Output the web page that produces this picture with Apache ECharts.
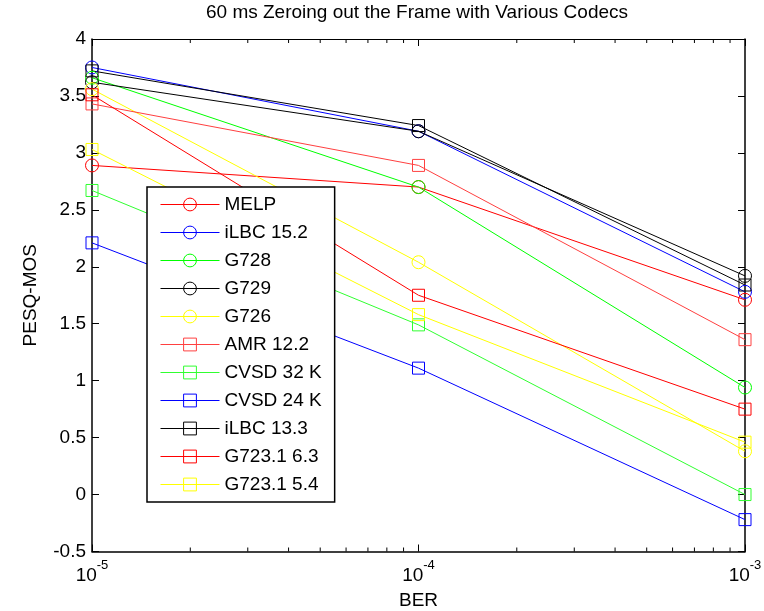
<!DOCTYPE html>
<html>
<head>
<meta charset="utf-8">
<script src="https://cdn.jsdelivr.net/npm/echarts@6/dist/echarts.min.js"></script>
<style>html,body{margin:0;padding:0;background:#fff}#c{width:764px;height:611px}</style>
</head>
<body>
<div id="c"></div>
<script>
// ---- data ----
var berValues = [1e-5, 1e-4, 1e-3];
var xTickExponents = [-5, -4, -3];
var minorTickValues = [2e-5,3e-5,4e-5,5e-5,6e-5,7e-5,8e-5,9e-5,2e-4,3e-4,4e-4,5e-4,6e-4,7e-4,8e-4,9e-4];
var seriesNames = ['MELP','iLBC 15.2','G728','G729','G726','AMR 12.2','CVSD 32 K','CVSD 24 K','iLBC 13.3','G723.1 6.3','G723.1 5.4'];
var melp      = [2.89, 2.70, 1.71];
var ilbc152   = [3.75, 3.19, 1.78];
var g728      = [3.66, 2.70, 0.94];
var g729      = [3.62, 3.19, 1.92];
var g726      = [3.56, 2.04, 0.38];
var amr122    = [3.43, 2.89, 1.36];
var cvsd32    = [2.67, 1.49, 0.00];
var cvsd24    = [2.21, 1.11, -0.22];
var ilbc133   = [3.72, 3.24, 1.84];
var g7231_63  = [3.51, 1.75, 0.75];
var g7231_54  = [3.03, 1.58, 0.46];
var seriesValues = [melp, ilbc152, g728, g729, g726, amr122, cvsd32, cvsd24, ilbc133, g7231_63, g7231_54];

// ---- styles ----
var colors  = ['#ff0000','#0000ff','#00ff00','#000000','#ffff00','#ff4040','#30ff30','#0000ff','#000000','#ff0000','#ffff00'];
var symbols = ['circle','circle','circle','circle','circle','rect','rect','rect','rect','rect','rect'];
var FONT = 'Liberation Sans, Arial, sans-serif';
var Y_MIN = -0.5, Y_MAX = 4;

var series = seriesNames.map(function (name, i) {
  return {
    name: name,
    type: 'line',
    xAxisIndex: 0, yAxisIndex: 0,
    data: berValues.map(function (x, j) { return [x, seriesValues[i][j]]; }),
    symbol: symbols[i],
    symbolSize: symbols[i] === 'circle' ? 13 : 12,
    showAllSymbol: true,
    color: colors[i],
    lineStyle: { color: colors[i], width: 1 },
    itemStyle: { color: 'rgba(255,255,255,0)', borderColor: colors[i], borderWidth: 1 },
    emphasis: { disabled: true },
    animation: false,
    z: 3
  };
});

series.push({
  type: 'custom',
  name: 'minorTicks',
  xAxisIndex: 0, yAxisIndex: 0,
  silent: true,
  animation: false,
  clip: false,
  data: minorTickValues.map(function (v) { return [v, 0]; }),
  encode: { x: 0, y: 1 },
  renderItem: function (params, api) {
    var x = api.value(0);
    var b = api.coord([x, Y_MIN]);
    var t = api.coord([x, Y_MAX]);
    return {
      type: 'group',
      children: [
        { type: 'line', shape: { x1: b[0], y1: b[1], x2: b[0], y2: b[1] - 4 }, style: { stroke: '#000', lineWidth: 1 } },
        { type: 'line', shape: { x1: t[0], y1: t[1], x2: t[0], y2: t[1] + 4 }, style: { stroke: '#000', lineWidth: 1 } }
      ]
    };
  },
  z: 4
});

function xLabel(v) {
  var e = Math.round(Math.log(v) / Math.LN10);
  return '{b|10}{s|' + e + '}';
}

var chart = echarts.init(document.getElementById('c'), null, { renderer: 'canvas' });
chart.setOption({
  backgroundColor: '#ffffff',
  animation: false,
  title: {
    text: '60 ms Zeroing out the Frame with Various Codecs',
    left: 417, top: 3, textAlign: 'center', padding: 0,
    textStyle: { fontFamily: FONT, fontSize: 19, fontWeight: 'normal', color: '#000' }
  },
  grid: { left: 92, right: 19, top: 39, bottom: 59.5, containLabel: false, outerBoundsMode: 'none' },
  legend: {
    data: seriesNames,
    orient: 'vertical',
    left: 147, top: 187,
    padding: [8, 13, 8, 13],
    itemGap: 9,
    itemWidth: 59, itemHeight: 16,
    backgroundColor: '#ffffff',
    borderColor: '#000', borderWidth: 1.5,
    selectedMode: false,
    lineStyle: { width: 1 },
    itemStyle: { borderWidth: 1 },
    textStyle: { fontFamily: FONT, fontSize: 19, color: '#000', lineHeight: 19 },
    z: 10
  },
  xAxis: [{
    type: 'log', logBase: 10, min: 1e-5, max: 1e-3,
    position: 'bottom',
    name: 'BER', nameLocation: 'middle', nameGap: 40,
    nameTextStyle: { fontFamily: FONT, fontSize: 19, color: '#000' },
    axisLine: { show: true, onZero: false, lineStyle: { color: '#000', width: 1.5 } },
    axisTick: { show: true, inside: true, length: 7, lineStyle: { color: '#000' } },
    splitLine: { show: false },
    axisLabel: {
      margin: 7,
      formatter: xLabel,
      rich: {
        b: { fontFamily: FONT, fontSize: 19, color: '#000', lineHeight: 35, verticalAlign: 'middle' },
        s: { fontFamily: FONT, fontSize: 13, color: '#000', lineHeight: 13, verticalAlign: 'top' }
      }
    }
  }, {
    type: 'log', logBase: 10, min: 1e-5, max: 1e-3,
    position: 'top',
    axisLine: { show: true, onZero: false, lineStyle: { color: '#000', width: 1 } },
    axisTick: { show: true, inside: true, length: 7, lineStyle: { color: '#000' } },
    axisLabel: { show: false },
    splitLine: { show: false }
  }],
  yAxis: [{
    type: 'value', min: Y_MIN, max: Y_MAX, interval: 0.5,
    position: 'left',
    name: 'PESQ-MOS', nameLocation: 'middle', nameGap: 52, nameRotate: 90,
    nameTextStyle: { fontFamily: FONT, fontSize: 19, color: '#000' },
    axisLine: { show: true, onZero: false, lineStyle: { color: '#000', width: 1.5 } },
    axisTick: { show: true, inside: true, length: 7, lineStyle: { color: '#000' } },
    splitLine: { show: false },
    axisLabel: { margin: 6, fontFamily: FONT, fontSize: 19, color: '#000' }
  }, {
    type: 'value', min: Y_MIN, max: Y_MAX, interval: 0.5,
    position: 'right',
    axisLine: { show: true, onZero: false, lineStyle: { color: '#000', width: 1.5 } },
    axisTick: { show: true, inside: true, length: 7, lineStyle: { color: '#000' } },
    axisLabel: { show: false },
    splitLine: { show: false }
  }],
  series: series
});
</script>
</body>
</html>
